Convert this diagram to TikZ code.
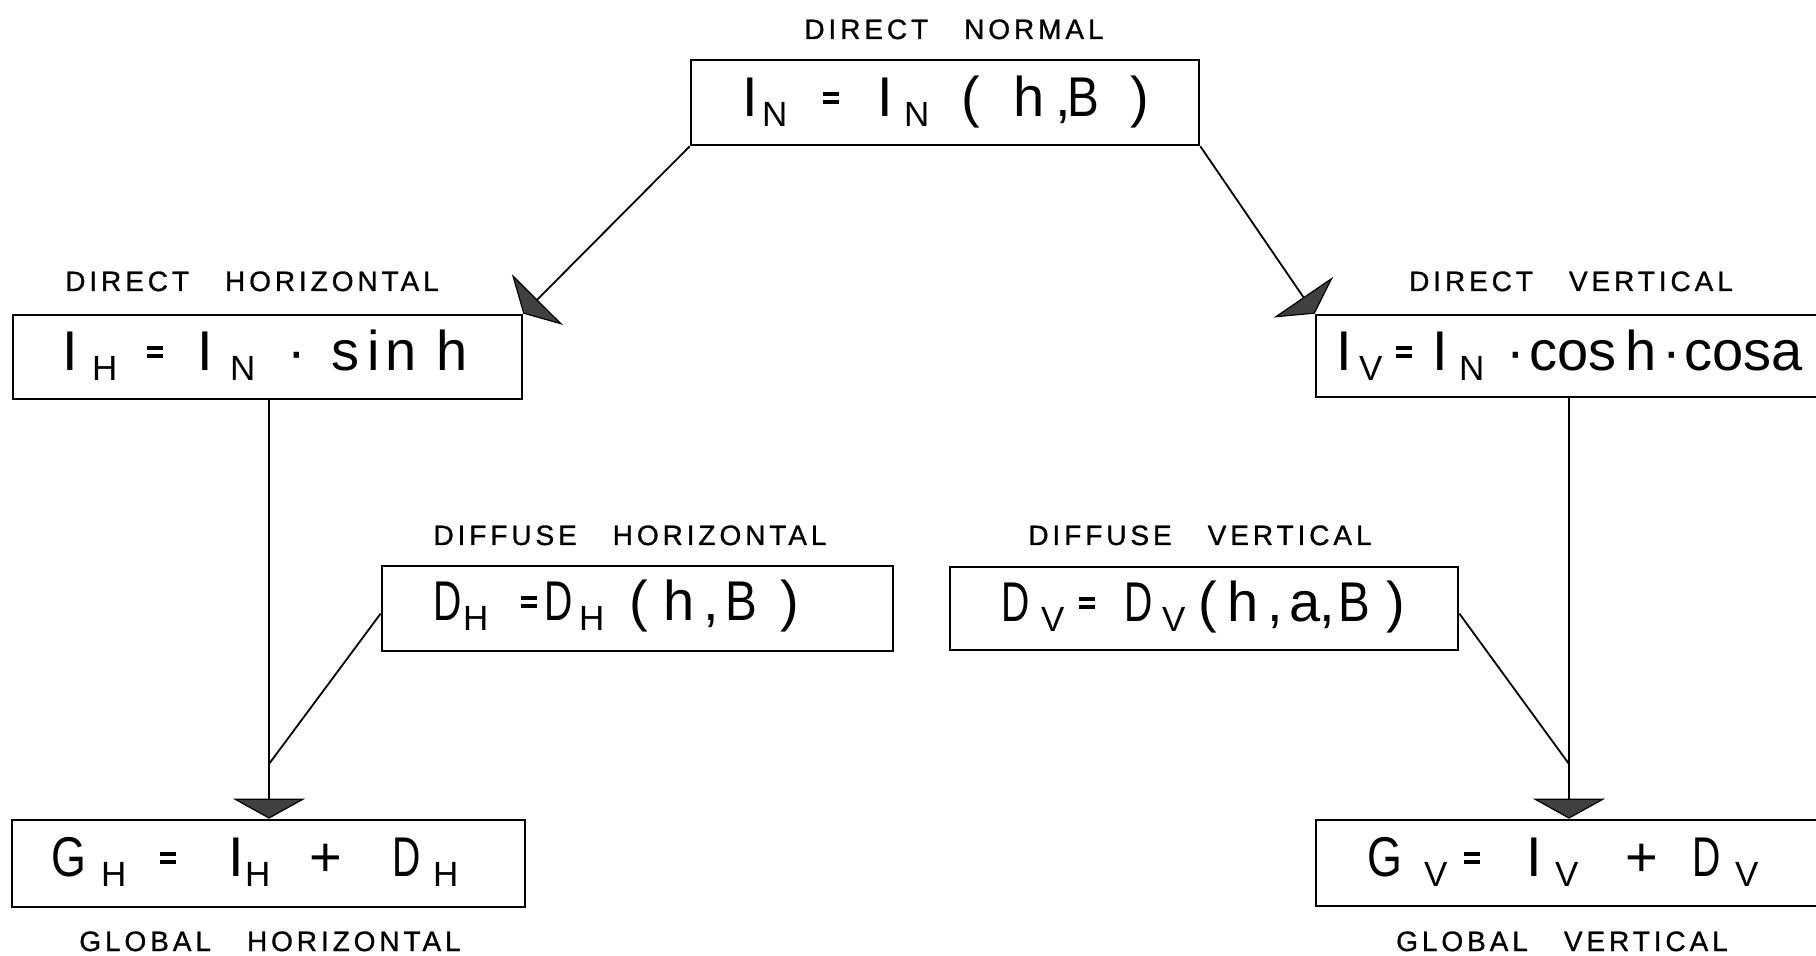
\documentclass[tikz,border=0pt]{standalone}
\usepackage{fontspec}
\usepackage{graphicx}
\setmainfont{Liberation Sans}
\newfontfamily\lblfont[LetterSpace=14,FakeBold=1]{Liberation Sans}
\usetikzlibrary{arrows.meta}
\newdimen\pxu \pxu=0.5pt
\newcommand\glyphat[2]{\makebox[0pt][l]{\hspace{#1\pxu}#2}}
\newcommand\sbs[1]{\raisebox{-5pt}{\fontsize{17.5}{18}\selectfont #1}}
\newcommand\eqs{\raisebox{6.5pt}{\vbox{\hrule width 8pt height 2pt\vskip 2pt\hrule width 8pt height 2pt}}}
\newcommand\capD{\scalebox{0.7}[1]{D}}
\newcommand\capB{\scalebox{0.85}[1]{B}}
\newcommand\capG{\scalebox{0.8}[1]{G}}
\tikzset{
  fbox/.style={draw, line width=1.3pt, inner sep=0pt},
  fml/.style={anchor=base west, inner sep=0pt, font=\fontsize{28}{30}\selectfont},
  lbl/.style={anchor=base, inner sep=0pt, font=\lblfont\fontsize{14}{16}\selectfont},
  conn/.style={line width=0.9pt},
  arr/.style={conn, -{Triangle[width=36pt,length=10pt,fill=black!75,line width=0.6pt]}}
}
\begin{document}
\begin{tikzpicture}[x=0.5pt, y=-0.5pt]
\useasboundingbox (0,0) rectangle (1816,956);
\clip (0,0) rectangle (1816,956);
% boxes
\node[fbox, minimum width=254pt, minimum height=42.5pt] (IN) at (945,102.5) {};
\node[fbox, minimum width=254.5pt, minimum height=42pt] (IH) at (267.5,357) {};
\node[fbox, minimum width=262pt, minimum height=41pt] (IV) at (1578,356) {};
\node[fbox, minimum width=255.5pt, minimum height=42.5pt] (DH) at (637.5,608.5) {};
\node[fbox, minimum width=254pt, minimum height=41.5pt] (DV) at (1204,608.5) {};
\node[fbox, minimum width=256.5pt, minimum height=43.5pt] (GH) at (268.5,863.5) {};
\node[fbox, minimum width=262pt, minimum height=43pt] (GV) at (1578,863) {};
% formulas
\node[fml] (INf) at ([yshift=-29pt]IN.north west) {\makebox[460\pxu][l]{%
  \glyphat{52}{I}\glyphat{72}{\sbs{N}}\glyphat{133}{\eqs}\glyphat{187}{I}\glyphat{214}{\sbs{N}}%
  \glyphat{271}{(}\glyphat{323}{h}\glyphat{365}{,}\glyphat{377}{\capB}\glyphat{440}{)}}};
\node[fml] (IHf) at ([yshift=-28.5pt]IH.north west) {\makebox[460\pxu][l]{%
  \glyphat{50}{I}\glyphat{80}{\sbs{H}}\glyphat{135}{\eqs}\glyphat{185}{I}\glyphat{218}{\sbs{N}}%
  \glyphat{275}{·}\glyphat{319}{s}\glyphat{355}{i}\glyphat{373}{n}\glyphat{424}{h}}};
\node[fml] (IVf) at ([yshift=-28.5pt]IV.north west) {\makebox[500\pxu][l]{%
  \glyphat{21}{I}\glyphat{44}{\sbs{V}}\glyphat{81}{\eqs}\glyphat{117}{I}\glyphat{144}{\sbs{N}}%
  \glyphat{191}{·}\glyphat{214}{cos}\glyphat{310}{h}\glyphat{347}{·}\glyphat{369}{cosa}}};
\node[fml] (DHf) at ([yshift=-28pt]DH.north west) {\makebox[460\pxu][l]{%
  \glyphat{52}{\capD}\glyphat{82}{\sbs{H}}\glyphat{140}{\eqs}\glyphat{163}{\capD}\glyphat{198}{\sbs{H}}%
  \glyphat{248}{(}\glyphat{282}{h}\glyphat{322}{,}\glyphat{344}{\capB}\glyphat{399}{)}}};
\node[fml] (DVf) at ([yshift=-28pt]DV.north west) {\makebox[460\pxu][l]{%
  \glyphat{52}{\capD}\glyphat{92}{\sbs{V}}\glyphat{130}{\eqs}\glyphat{175}{\capD}\glyphat{213}{\sbs{V}}%
  \glyphat{249}{(}\glyphat{278}{h}\glyphat{318}{,}\glyphat{340}{a}\glyphat{370}{,}\glyphat{389}{\capB}\glyphat{437}{)}}};
\node[fml] (GHf) at ([yshift=-29pt]GH.north west) {\makebox[460\pxu][l]{%
  \glyphat{40}{\capG}\glyphat{90}{\sbs{H}}\glyphat{149}{\eqs}\glyphat{217}{I}\glyphat{234}{\sbs{H}}%
  \glyphat{298}{+}\glyphat{381}{\capD}\glyphat{422}{\sbs{H}}}};
\node[fml] (GVf) at ([yshift=-29pt]GV.north west) {\makebox[460\pxu][l]{%
  \glyphat{52}{\capG}\glyphat{109}{\sbs{V}}\glyphat{149}{\eqs}\glyphat{211}{I}\glyphat{240}{\sbs{V}}%
  \glyphat{310}{+}\glyphat{377}{\capD}\glyphat{420}{\sbs{V}}}};
% labels
\node[lbl] (lDN) at (954,39) {DIRECT\hspace{18pt}NORMAL};
\node[lbl] (lDH) at (252,291) {DIRECT\hspace{18pt}HORIZONTAL};
\node[lbl] (lDV) at (1571,291) {DIRECT\hspace{18pt}VERTICAL};
\node[lbl] (lFH) at (630,545) {DIFFUSE\hspace{18pt}HORIZONTAL};
\node[lbl] (lFV) at (1200,545) {DIFFUSE\hspace{18pt}VERTICAL};
\node[lbl] (lGH) at (270,951) {GLOBAL\hspace{18pt}HORIZONTAL};
\node[lbl] (lGV) at (1562,951) {GLOBAL\hspace{18pt}VERTICAL};
% junction points
\coordinate (jl) at (269,764);
\coordinate (jr) at (1569,764);
% connectors
\draw[arr] (IN.south west) -- (IH.north east);
\draw[arr] (IN.south east) -- (IV.north west);
\draw[arr] (jl |- IH.south) -- (jl |- GH.north);
\draw[arr] (jr |- IV.south) -- (jr |- GV.north);
\draw[conn] ([yshift=-2.5pt]DH.west) -- (jl);
\draw[conn] ([yshift=-2.5pt]DV.east) -- (jr);
\end{tikzpicture}
\end{document}
